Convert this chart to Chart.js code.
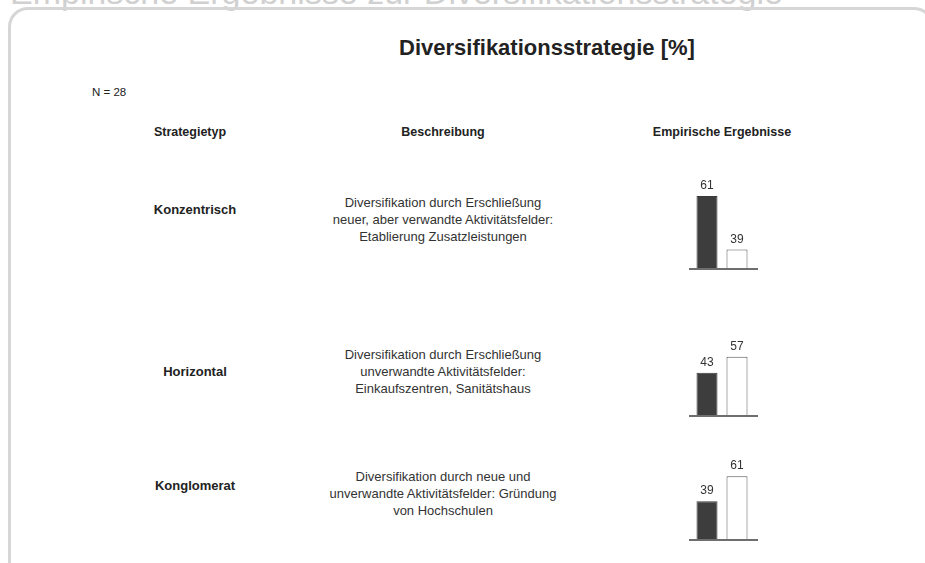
<!DOCTYPE html>
<html>
<head>
    <meta charset="UTF-8">
    <title>Diversifikationsstrategie</title>
    <script src="https://cdn.jsdelivr.net/npm/chart.js"></script>
    <style>
        body { margin: 0; width: 925px; height: 563px; overflow: hidden; background: #fff;
               font-family: "Liberation Sans", Arial, sans-serif; color: #222; position: relative; }
        .abs { position: absolute; white-space: nowrap; }
        .c { transform: translate(-50%, -50%); text-align: center; }
        .box { position: absolute; left: 8px; top: 7px; width: 920px; height: 620px;
               border: 3px solid #d6d6d6; border-radius: 20px; }
        .slidetitle { left: 10px; top: -25px; font-size: 34px; line-height: 34px; color: #d0d0d0; }
        .title { font-size: 22px; font-weight: bold; }
        .head { font-size: 12.5px; font-weight: bold; }
        .rowlabel { font-size: 13px; font-weight: bold; }
        .desc { font-size: 13px; line-height: 17px; color: #333; }
        canvas { position: absolute; }
    </style>
</head>
<body>
<div class="abs slidetitle">Empirische Ergebnisse zur Diversifikationsstrategie</div>
<div class="box"></div>
<div class="abs c title" style="left:547px; top:48px;">Diversifikationsstrategie [%]</div>
<div class="abs" style="left:92px; top:86px; font-size:11.5px;">N = 28</div>
<div class="abs c head" style="left:190px; top:132px;">Strategietyp</div>
<div class="abs c head" style="left:443px; top:132px;">Beschreibung</div>
<div class="abs c head" style="left:722px; top:132px;">Empirische Ergebnisse</div>
<div id="rows"></div>

<script>
    // Daten
    var strategien = ['Konzentrisch', 'Horizontal', 'Konglomerat'];
    var beschreibungen = [
        'Diversifikation durch Erschließung<br>neuer, aber verwandte Aktivitätsfelder:<br>Etablierung Zusatzleistungen',
        'Diversifikation durch Erschließung<br>unverwandte Aktivitätsfelder:<br>Einkaufszentren, Sanitätshaus',
        'Diversifikation durch neue und<br>unverwandte Aktivitätsfelder: Gründung<br>von Hochschulen'
    ];
    var balken = ['Ja', 'Nein'];
    var anteilJa = [61, 43, 39];
    var anteilNein = [39, 57, 61];
    var yMin = [31, 5, 5];
    var yMax = [68, 84, 84];

    // Layout je Zeile
    var rowY = [209, 371, 485];
    var descY = [219, 371, 493];
    var baseY = [269, 416, 540];

    // Werte über den Balken
    var labelPlugin = {
        id: 'werte',
        afterDatasetsDraw: function (chart) {
            var ctx = chart.ctx;
            var meta = chart.getDatasetMeta(0);
            ctx.save();
            ctx.font = '12px "Liberation Sans", Arial, sans-serif';
            ctx.fillStyle = '#333';
            ctx.textAlign = 'center';
            ctx.textBaseline = 'alphabetic';
            meta.data.forEach(function (bar, i) {
                ctx.fillText(chart.data.datasets[0].data[i], bar.x, bar.y - 7);
            });
            // Grundlinie
            var a = chart.chartArea;
            ctx.strokeStyle = '#6e6e6e';
            ctx.lineWidth = 2;
            ctx.beginPath();
            ctx.moveTo(a.left - 3, a.bottom);
            ctx.lineTo(a.right + 6, a.bottom);
            ctx.stroke();
            ctx.restore();
        }
    };

    var rows = document.getElementById('rows');
    for (var i = 0; i < strategien.length; i++) {
        var l = document.createElement('div');
        l.className = 'abs c rowlabel';
        l.style.left = '195px';
        l.style.top = rowY[i] + 'px';
        l.textContent = strategien[i];
        rows.appendChild(l);

        var d = document.createElement('div');
        d.className = 'abs c desc';
        d.style.left = '443px';
        d.style.top = descY[i] + 'px';
        d.innerHTML = beschreibungen[i];
        rows.appendChild(d);

        var cv = document.createElement('canvas');
        cv.width = 90;
        cv.height = 110;
        cv.style.left = '682px';
        cv.style.top = (baseY[i] - 100) + 'px';
        document.body.appendChild(cv);

        new Chart(cv.getContext('2d'), {
            type: 'bar',
            data: {
                labels: balken,
                datasets: [{
                    data: [anteilJa[i], anteilNein[i]],
                    backgroundColor: ['#3d3d3d', '#ffffff'],
                    borderColor: ['#3a3a3a', '#555555'],
                    borderWidth: 1,
                    borderSkipped: 'bottom',
                    barPercentage: 0.7,
                    categoryPercentage: 1
                }]
            },
            options: {
                responsive: false,
                animation: false,
                devicePixelRatio: 1,
                layout: { padding: { left: 10, right: 20, top: 10, bottom: 10 } },
                plugins: { legend: { display: false }, tooltip: { enabled: false } },
                scales: {
                    x: { display: false },
                    y: { display: false, min: yMin[i], max: yMax[i] }
                }
            },
            plugins: [labelPlugin]
        });
    }
</script>
</body>
</html>
